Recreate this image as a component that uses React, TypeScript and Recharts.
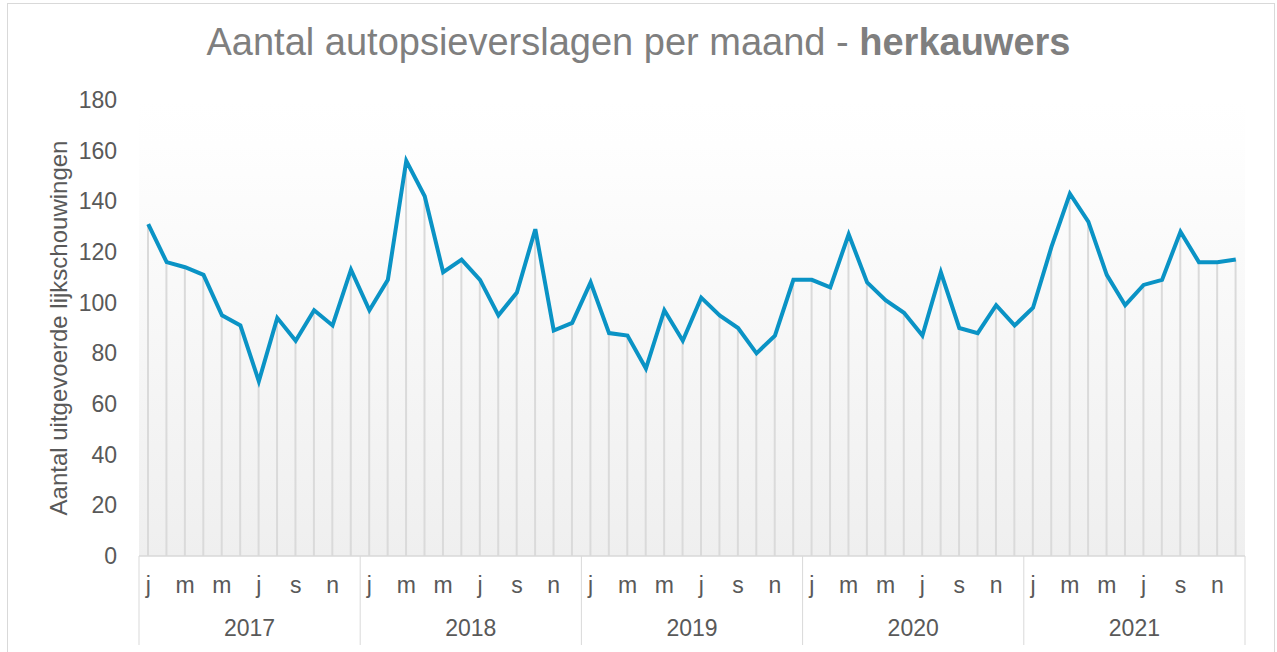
import React from "react"
import { ComposedChart, Line, Bar, XAxis, YAxis, CartesianGrid } from "recharts"

const years = ["2017", "2018", "2019", "2020", "2021"]
const monthInitials = ["j", "f", "m", "a", "m", "j", "j", "a", "s", "o", "n", "d"]
const yTicks = [0, 20, 40, 60, 80, 100, 120, 140, 160, 180]

// autopsieverslagen per maand, jan 2017 - dec 2021
const counts2017 = [131, 116, 114, 111, 95, 91, 69, 94, 85, 97, 91, 113]
const counts2018 = [97, 109, 156, 142, 112, 117, 109, 95, 104, 129, 89, 92]
const counts2019 = [108, 88, 87, 74, 97, 85, 102, 95, 90, 80, 87, 109]
const counts2020 = [109, 106, 127, 108, 101, 96, 87, 112, 90, 88, 99, 91]
const counts2021 = [98, 122, 143, 132, 111, 99, 107, 109, 128, 116, 116, 117]

const allCounts = [counts2017, counts2018, counts2019, counts2020, counts2021]

const data = years.flatMap((year, yi) =>
  allCounts[yi].map((value, mi) => ({
    key: `${year}-${mi + 1}`,
    year,
    month: monthInitials[mi],
    value,
  }))
)

const W = 1277
const H = 652
const PLOT_LEFT = 139
const PLOT_RIGHT = 1245
const BAND = (PLOT_RIGHT - PLOT_LEFT) / data.length
const FONT = "'Liberation Sans', Arial, sans-serif"
const GRID = "#d9d9d9"
const TEXT = "#595959"
const AXIS_FS = 23

const MonthTick = ({ x, y, index }: any) => {
  const showText = index % 2 === 0
  return (
    <g>
      {showText && (
        <text x={x} y={y + 29} textAnchor="middle" dominantBaseline="central" fill={TEXT} fontSize={AXIS_FS} fontFamily={FONT}>
          {data[index].month}
        </text>
      )}
      {index % 12 === 0 && <line x1={x - BAND / 2} x2={x - BAND / 2} y1={y} y2={y + 89} stroke={GRID} />}
      {index === data.length - 1 && <line x1={x + BAND / 2} x2={x + BAND / 2} y1={y} y2={y + 89} stroke={GRID} />}
    </g>
  )
}

const YearTick = ({ x, y, index }: any) => {
  if (index % 12 !== 6) return null
  return (
    <text x={x - BAND / 2} y={y + 28} textAnchor="middle" dominantBaseline="central" fill={TEXT} fontSize={AXIS_FS} fontFamily={FONT}>
      {data[index].year}
    </text>
  )
}

const YLabel = ({ viewBox }: any) => {
  const cx = 58
  const cy = viewBox.y + viewBox.height / 2
  return (
    <text x={cx} y={cy} transform={`rotate(-90 ${cx} ${cy})`} textAnchor="middle" dominantBaseline="central" fill={TEXT} fontSize={24} fontFamily={FONT}>
      Aantal uitgevoerde lijkschouwingen
    </text>
  )
}

export default function App() {
  return (
    <div style={{ position: "absolute", left: 0, top: 0, width: W, height: H, background: "#fff", fontFamily: FONT }}>
      <div style={{ position: "absolute", left: 7, top: 3, width: 1266, height: 660, border: `1px solid ${GRID}` }} />
      <div
        style={{
          position: "absolute",
          left: 0,
          top: 20,
          width: W,
          textAlign: "center",
          fontSize: 38,
          color: "#7f7f7f",
          lineHeight: "44px",
          whiteSpace: "nowrap",
        }}
      >
        Aantal autopsieverslagen per maand - <b>herkauwers</b>
      </div>
      <div style={{ position: "absolute", left: 0, top: 0 }}>
        <ComposedChart width={W} height={H} data={data} margin={{ top: 100, right: W - PLOT_RIGHT, bottom: 6, left: 0 }}>
          <defs>
            <linearGradient id="plotFade" x1="0" y1="0" x2="0" y2="1">
              <stop offset="0%" stopColor="#ffffff" />
              <stop offset="10%" stopColor="#fefefe" />
              <stop offset="100%" stopColor="#efefef" />
            </linearGradient>
          </defs>
          <CartesianGrid horizontal={false} vertical={false} fill="url(#plotFade)" />
          <XAxis
            dataKey="key"
            interval={0}
            height={44}
            tickLine={false}
            tickSize={0}
            tickMargin={0}
            axisLine={{ stroke: GRID, strokeWidth: 1.5 }}
            tick={<MonthTick />}
          />
          <XAxis
            xAxisId="year"
            dataKey="key"
            interval={0}
            height={46}
            tickLine={false}
            tickSize={0}
            tickMargin={0}
            axisLine={false}
            tick={<YearTick />}
          />
          <YAxis
            width={PLOT_LEFT}
            domain={[0, 180]}
            ticks={yTicks}
            interval={0}
            axisLine={false}
            tickLine={false}
            tickSize={0}
            tickMargin={22}
            tick={{ fill: TEXT, fontSize: AXIS_FS, fontFamily: FONT }}
            label={<YLabel />}
          />
          <Bar dataKey="value" barSize={2} fill="#dadada" isAnimationActive={false} />
          <Line
            dataKey="value"
            type="linear"
            stroke="#0a93c5"
            strokeWidth={4}
            dot={false}
            activeDot={false}
            isAnimationActive={false}
          />
        </ComposedChart>
      </div>
    </div>
  )
}
